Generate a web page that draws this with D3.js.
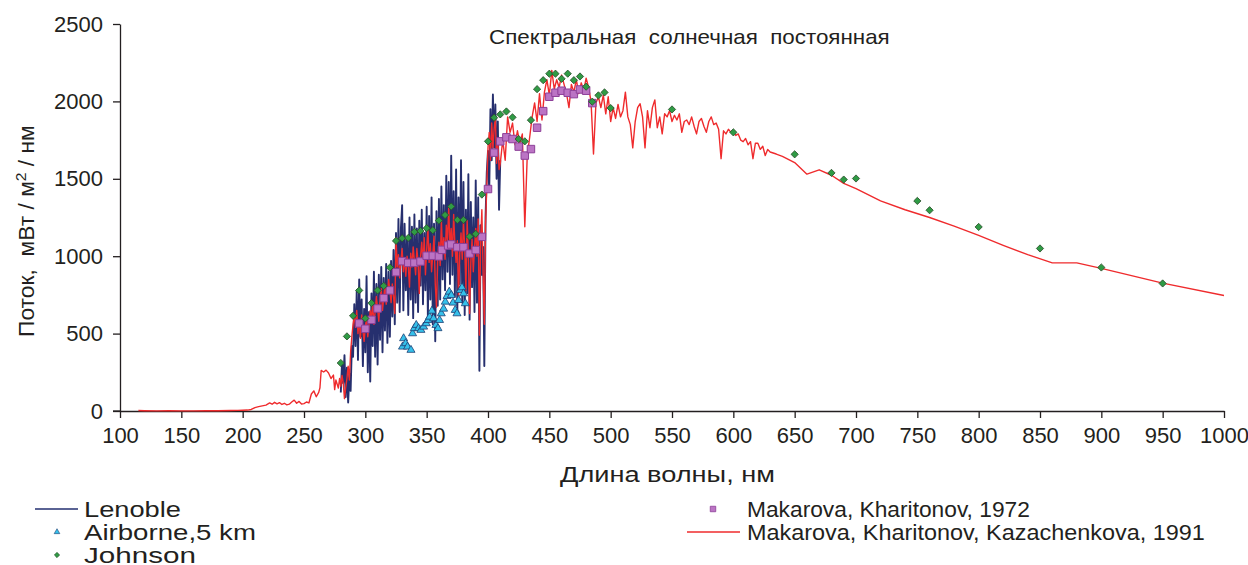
<!DOCTYPE html>
<html>
<head>
<meta charset="utf-8">
<script src="https://cdn.jsdelivr.net/npm/d3@7"></script>
<style>
  body { margin: 0; background: #fff; }
  svg { display: block; font-family: "Liberation Sans", Arial, sans-serif; }
  .axis text { font-size: 22px; fill: #231f20; }
  .axis path, .axis line { stroke: #231f20; stroke-width: 1.3; }
  .lbl { font-size: 22px; fill: #231f20; white-space: pre; }
</style>
</head>
<body>
<div id="chart"></div>
<script>
var svgWidth = 1248;
var svgHeight = 565;

// Lenoble, 1 nm step from 280 nm
var lenobleStart = 280;
var lenobleFlux = [
  120, 310, 180, 360, 90, 280, 55, 240, 130, 420,
  350, 690, 420, 780, 330, 850, 480, 720, 290, 660,
  380, 870, 250, 640, 190, 760, 420, 900, 350, 820,
  300, 880, 460, 930, 380, 860, 520, 950, 440, 900,
  480, 970, 610, 1040, 560, 1150, 700, 1240, 640, 1180,
  1330, 650, 1210, 780, 1120, 620, 1250, 720, 1190, 600,
  1270, 700, 1180, 640, 1230, 810, 1300, 690, 1150, 780,
  1320, 600, 1260, 720, 1380, 560, 1210, 450, 1290, 680,
  1370, 720, 1450, 850, 1330, 780, 1520, 900, 1480, 820,
  1650, 880, 1420, 740, 1560, 650, 1380, 820, 1620, 700,
  1480, 620, 1300, 760, 1530, 590, 1350, 800, 1250, 640,
  1490, 700, 1380, 260, 1200, 880, 1060, 290, 1250, 1540,
  1680, 1420, 1950, 1620, 2045, 1700, 1980, 1500, 1870, 1300, 1620
];

// Airborne, 5 km
var airborneWl = [331.2, 330.3, 332.8, 334.4, 337.2, 338.5, 339.9, 341.5, 343.4, 345.3, 347.5,
  349.7, 351.1, 352.4, 354.3, 355.6, 357.6, 359.2, 360.5, 361.9, 363.8, 365.2, 366.6,
  368.4, 370.1, 371.5, 373.3, 374.7, 376.0, 377.4, 378.8, 380.1, 381.5];
var airborneFlux = [469, 415, 437, 415, 394, 501, 534, 555, 534, 523, 544,
  566, 587, 608, 647, 598, 555, 534, 587, 630, 660, 705, 742,
  770, 748, 699, 652, 630, 716, 781, 798, 759, 695];

// Johnson
var johnsonWl = [280, 285, 290, 295, 300, 305, 310, 315, 320, 325, 330, 335, 340, 345, 350,
  355, 360, 365, 370, 375, 380, 385, 390, 395, 400, 405, 410, 415, 420, 425, 430, 435,
  440, 445, 450, 455, 460, 465, 470, 475, 480, 485, 490, 495, 500,
  550, 600, 650, 680, 690, 700, 750, 760, 800, 850, 900, 950];
var johnsonFlux = [310, 482, 615, 779, 598, 697, 779, 808, 927, 1099, 1116, 1118, 1157, 1163, 1181,
  1168, 1230, 1266, 1321, 1234, 1234, 1127, 1144, 1398, 1742, 1895, 1916, 1935, 1897, 1757, 1742, 1879,
  2079, 2137, 2179, 2179, 2146, 2179, 2137, 2161, 2095, 1998, 2039, 2058, 1957,
  1948, 1800, 1658, 1538, 1495, 1502, 1357, 1297, 1189, 1050, 927, 824];

// Makarova, Kharitonov, 1972
var mk72Wl = [295, 300, 305, 310, 315, 320, 325, 330, 335, 340, 345, 350, 355, 360, 362.5, 367.5,
  370, 375, 380, 385, 390, 395, 400, 405, 410, 415, 420, 425, 430, 435, 440, 445, 450,
  455, 460, 465, 470, 475, 480, 485];
var mk72Flux = [566, 531, 589, 662, 729, 779, 897, 968, 957, 958, 966, 1003, 1003, 999, 1041, 1069,
  1076, 1058, 1058, 1017, 1040, 1125, 1434, 1669, 1742, 1768, 1757, 1708, 1650, 1692, 1830, 1937, 2030,
  2056, 2069, 2056, 2047, 2077, 2069, 1989];

// Makarova, Kharitonov, Kazachenkova, 1991
var mk91LowWl = [115, 120, 130, 140, 150, 160, 170, 180, 190, 196, 200, 204, 207, 210, 213, 216, 219,
  222, 224, 226, 228, 230, 232, 234, 236, 238, 240, 242, 244, 246, 248, 250, 252, 254, 256,
  258, 260, 262, 263, 264, 266, 268, 270, 272, 274, 275, 276, 278, 279];
var mk91LowFlux = [3, 2, 1, 2, 1, 1, 2, 2, 3, 4, 5, 6, 10, 22, 28, 33, 38,
  52, 44, 56, 46, 54, 42, 50, 40, 44, 58, 70, 50, 62, 45, 48, 58, 52, 110,
  130, 92, 120, 150, 262, 252, 264, 246, 210, 232, 138, 200, 148, 210];

var mk91UvStart = 280; // 1 nm step
var mk91UvFlux = [
  160, 230, 180, 80, 150, 210, 290, 200, 380, 480,
  560, 620, 540, 650, 500, 590, 470, 620, 520, 450,
  540, 610, 480, 560, 650, 590, 700, 560, 640, 740,
  660, 580, 720, 790, 650, 730, 820, 690, 760, 850,
  780, 700, 820, 740, 630, 1120, 930, 1010, 860, 970,
  1050, 900, 990, 870, 1000, 940, 800, 1020, 930, 1060,
  970, 880, 1050, 960, 760, 1000, 1090, 950, 1120, 880,
  1040, 1190, 960, 1080, 900, 1010, 1130, 820, 670, 980,
  1090, 940, 1230, 1010, 1120, 980, 1200, 1100, 1320, 1050,
  1180, 1000, 1270, 1080, 960, 1100, 720, 1020, 1150, 980,
  1230, 1060, 780, 1230, 1010, 630, 960, 1110, 900, 1050,
  1180, 1000, 1240, 490, 1100, 1300, 900, 560, 1200, 1450,
  1700, 1800, 1620, 1860, 1700, 1820, 1900, 1600, 1750, 1560, 1600
];

var mk91VisStart = 412; // 2 nm step
var mk91VisFlux = [
  1750, 1620, 1900, 1800, 1860, 1720, 1810, 1730, 1790, 1190,
  1650, 1770, 1900, 1990, 1870, 2050, 1880, 2060, 2140, 2040,
  2200, 2080, 2140, 2090, 2170, 2110, 2050, 1960, 2110, 2060,
  2140, 2050, 2120, 2070, 2150, 2090, 2000, 1660, 1990, 2030,
  1960, 2040, 1920, 2030, 1870, 1960, 1890, 1980, 1900, 1940,
  2060, 1900, 1850, 1700, 1870, 1960, 1985, 1900, 1700, 1940,
  1830, 1960, 2010, 1830, 1900, 1790, 1920, 1900, 1940, 1870,
  1910, 1880, 1920, 1800, 1870, 1880, 1850, 1900, 1840, 1790,
  1870, 1890, 1840, 1800, 1870, 1900, 1850, 1860, 1820, 1630,
  1810, 1790, 1820, 1800, 1810, 1780, 1790, 1750, 1740, 1760,
  1720, 1740, 1630, 1730, 1730, 1690, 1710, 1650, 1690, 1673
];

var mk91IrWl = [635, 640, 650, 660, 670, 680, 690, 700, 720, 740, 760, 780, 800, 820, 840, 860, 880, 900, 950, 1000];
var mk91IrFlux = [1660, 1645, 1605, 1530, 1558, 1523, 1470, 1437, 1357, 1300, 1250, 1194, 1134, 1070, 1010, 957, 957, 921, 826, 746];

var xTicks = [100, 150, 200, 250, 300, 350, 400, 450, 500, 550, 600, 650, 700, 750, 800, 850, 900, 950, 1000];
var yTicks = [0, 500, 1000, 1500, 2000, 2500];

// build point lists
function pairs(wl, flux) {
  return wl.map(function(w, i) { return {x: w, y: flux[i]}; });
}
function stepped(start, step, flux) {
  return flux.map(function(f, i) { return {x: start + i * step, y: f}; });
}
var lenoble = stepped(lenobleStart, 1, lenobleFlux);
var mk91 = pairs(mk91LowWl, mk91LowFlux)
  .concat(stepped(mk91UvStart, 1, mk91UvFlux))
  .concat(stepped(mk91VisStart, 2, mk91VisFlux))
  .concat(pairs(mk91IrWl, mk91IrFlux));
var airborne = pairs(airborneWl, airborneFlux);
var johnson = pairs(johnsonWl, johnsonFlux);
var mk72 = pairs(mk72Wl, mk72Flux);

var svg = d3.select("#chart").append("svg")
  .attr("width", svgWidth)
  .attr("height", svgHeight);

var x = d3.scaleLinear().domain([100, 1000]).range([120, 1224]);
var y = d3.scaleLinear().domain([0, 2500]).range([411, 24]);

// stretch a text horizontally (along its own direction) to a target width
function stretch(sel, ax, ay, w, pre) {
  var k = w / sel.node().getBBox().width;
  sel.attr("transform", (pre || "") + "translate(" + ax + "," + ay + ") scale(" + k + ",1) translate(" + (-ax) + "," + (-ay) + ")");
}

// axes
var xAxis = svg.append("g").attr("class", "axis")
  .attr("transform", "translate(0," + y(0) + ")")
  .call(d3.axisBottom(x).tickValues(xTicks).tickFormat(d3.format("d")).tickSize(7).tickSizeOuter(0).tickPadding(9));
xAxis.selectAll("text").attr("dy", "0.71em");
xAxis.append("line").attr("x1", x(100) - 7).attr("x2", x(100)).attr("y1", 0).attr("y2", 0);

var yAxis = svg.append("g").attr("class", "axis")
  .attr("transform", "translate(" + x(100) + ",0)")
  .call(d3.axisLeft(y).tickValues(yTicks).tickFormat(d3.format("d")).tickSize(7).tickSizeOuter(0).tickPadding(10));

// lines
var line = d3.line().x(function(d) { return x(d.x); }).y(function(d) { return y(d.y); });

svg.append("path").datum(lenoble)
  .attr("d", line)
  .attr("fill", "none")
  .attr("stroke", "#262f6e")
  .attr("stroke-width", 1.9)
  .attr("stroke-linejoin", "round");

svg.append("path").datum(mk91)
  .attr("d", line)
  .attr("fill", "none")
  .attr("stroke", "#ef2b2d")
  .attr("stroke-width", 1.4)
  .attr("stroke-linejoin", "round");

// markers
var tri = d3.symbol().type(d3.symbolTriangle).size(28);
var sq = d3.symbol().type(d3.symbolSquare).size(56);
var dia = d3.symbol().type(d3.symbolSquare).size(26);

svg.append("g").selectAll("path").data(airborne).enter().append("path")
  .attr("d", tri)
  .attr("transform", function(d) { return "translate(" + x(d.x) + "," + y(d.y) + ")"; })
  .attr("fill", "#35c0ea")
  .attr("stroke", "#1d3f73")
  .attr("stroke-width", 0.8);

svg.append("g").selectAll("path").data(mk72).enter().append("path")
  .attr("d", sq)
  .attr("transform", function(d) { return "translate(" + x(d.x) + "," + y(d.y) + ")"; })
  .attr("fill", "#bb74c4")
  .attr("stroke", "#8d3f98")
  .attr("stroke-width", 1);

svg.append("g").selectAll("path").data(johnson).enter().append("path")
  .attr("d", dia)
  .attr("transform", function(d) { return "translate(" + x(d.x) + "," + y(d.y) + ") rotate(45)"; })
  .attr("fill", "#2f9b45")
  .attr("stroke", "#2c4f2c")
  .attr("stroke-width", 0.8);

// title and axis labels
var title = svg.append("text").attr("class", "lbl")
  .attr("x", 489).attr("y", 44)
  .style("font-size", "20px")
  .text("Спектральная  солнечная  постоянная");
stretch(title, 489, 44, 401);

var xl = svg.append("text").attr("class", "lbl")
  .attr("x", 560).attr("y", 482)
  .text("Длина волны, нм");
stretch(xl, 560, 482, 215);

var yl = svg.append("text").attr("class", "lbl")
  .attr("x", 0).attr("y", 0);
yl.append("tspan").text("Поток,  мВт / м");
yl.append("tspan").attr("dy", -8).style("font-size", "15px").text("2");
yl.append("tspan").attr("dy", 8).text(" / нм");
stretch(yl, 0, 0, 212, "translate(34,337) rotate(-90) ");

// legend
var lg = svg.append("g");
lg.append("line").attr("x1", 35).attr("x2", 78).attr("y1", 509).attr("y2", 509)
  .attr("stroke", "#5a6394").attr("stroke-width", 2);
var t1 = lg.append("text").attr("class", "lbl").attr("x", 84).attr("y", 517).text("Lenoble");
lg.append("path").attr("d", d3.symbol().type(d3.symbolTriangle).size(14))
  .attr("transform", "translate(57,532)")
  .attr("fill", "#35c0ea").attr("stroke", "#1d3f73").attr("stroke-width", 0.6);
var t2 = lg.append("text").attr("class", "lbl").attr("x", 84).attr("y", 540).text("Airborne,5 km");
lg.append("path").attr("d", d3.symbol().type(d3.symbolSquare).size(14))
  .attr("transform", "translate(57,555) rotate(45)")
  .attr("fill", "#2f9b45").attr("stroke", "#2c4f2c").attr("stroke-width", 0.6);
var t3 = lg.append("text").attr("class", "lbl").attr("x", 84).attr("y", 563).text("Johnson");

lg.append("path").attr("d", d3.symbol().type(d3.symbolSquare).size(30))
  .attr("transform", "translate(713,509)")
  .attr("fill", "#bb74c4").attr("stroke", "#8d3f98").attr("stroke-width", 0.8);
var t4 = lg.append("text").attr("class", "lbl").attr("x", 747).attr("y", 517).text("Makarova, Kharitonov, 1972");
lg.append("line").attr("x1", 687).attr("x2", 740).attr("y1", 532).attr("y2", 532)
  .attr("stroke", "#ef2b2d").attr("stroke-width", 1.4);
var t5 = lg.append("text").attr("class", "lbl").attr("x", 747).attr("y", 540).text("Makarova, Kharitonov, Kazachenkova, 1991");

stretch(t1, 84, 517, 97);
stretch(t2, 84, 540, 172);
stretch(t3, 84, 563, 112);
stretch(t4, 747, 517, 283);
stretch(t5, 747, 540, 458);
</script>
</body>
</html>
